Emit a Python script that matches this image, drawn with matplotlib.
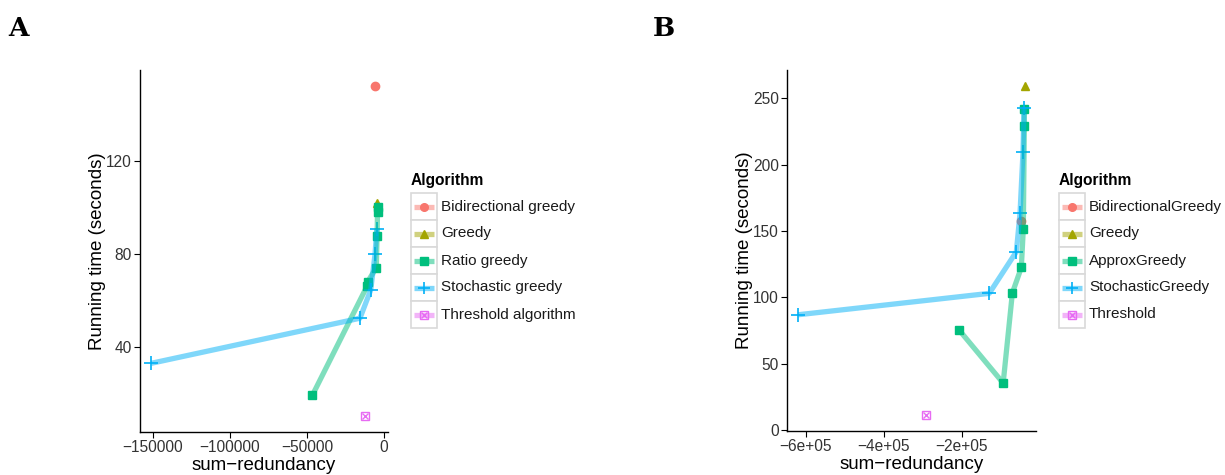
import matplotlib
matplotlib.use("Agg")
import matplotlib.pyplot as plt
from matplotlib.patches import Rectangle

plt.rcParams['font.family'] = ['Liberation Sans', 'DejaVu Sans']
plt.rcParams['axes.unicode_minus'] = True

# ggplot default hue palette for 5 groups
colors = ['#F8766D', '#A3A500', '#00BF7D', '#00B0F6', '#E76BF3']
markers = ['o', '^', 's', '+', 'sx']

# --- panel A data ---
labels_a = ['Bidirectional greedy', 'Greedy', 'Ratio greedy', 'Stochastic greedy', 'Threshold algorithm']
bidir_a_x = [-5800]
bidir_a_y = [152]
greedy_a_x = [-4700]
greedy_a_y = [102]
ratio_a_x = [-46500, -11000, -10500, -5000, -4500, -4200, -4200]
ratio_a_y = [19, 66, 68, 74, 87.5, 98, 100]
stoch_a_x = [-151000, -15600, -8600, -5800, -4700]
stoch_a_y = [32.8, 52.2, 64.4, 79.9, 90.6]
thresh_a_x = [-12300]
thresh_a_y = [10.3]
xticks_a = [-150000, -100000, -50000, 0]
xticklabels_a = ['\u2212150000', '\u2212100000', '\u221250000', '0']
yticks_a = [40, 80, 120]

# --- panel B data ---
labels_b = ['BidirectionalGreedy', 'Greedy', 'ApproxGreedy', 'StochasticGreedy', 'Threshold']
bidir_b_x = [-47600]
bidir_b_y = [157.4]
greedy_b_x = [-39000]
greedy_b_y = [258.9]
approx_b_x = [-207900, -94100, -70500, -47600, -42500, -39900, -39900]
approx_b_y = [75.7, 35.4, 103.4, 122.5, 151.6, 228.8, 242]
stoch_b_x = [-619000, -129800, -60300, -50900, -43300, -40700]
stoch_b_y = [86.9, 103, 134.4, 163.6, 209.6, 242.7]
thresh_b_x = [-290800]
thresh_b_y = [11.7]
xticks_b = [-600000, -400000, -200000]
xticklabels_b = ['\u22126e+05', '\u22124e+05', '\u22122e+05']
yticks_b = [0, 50, 100, 150, 200, 250]

W, H = 1225, 475
fig = plt.figure(figsize=(W / 100, H / 100), dpi=100)


def draw_marker(ax, x, y, m, c, ms=6, zorder=2):
    if m == 'sx':
        ax.plot(x, y, linestyle='none', marker='s', ms=ms, mfc='none', mec=c, mew=1.0, zorder=zorder)
        ax.plot(x, y, linestyle='none', marker='x', ms=ms * 0.7, mec=c, mew=1.0, zorder=zorder)
    elif m == '+':
        ax.plot(x, y, linestyle='none', marker='+', ms=ms * 1.7, mec=c, mew=1.2, zorder=zorder)
    else:
        ax.plot(x, y, linestyle='none', marker=m, ms=ms, mfc=c, mec=c, zorder=zorder)


def panel(rect, series, xlim, ylim, xticks, xticklabels, yticks):
    ax = fig.add_axes(rect)
    for (x, y), c, m in zip(series, colors, markers):
        draw_marker(ax, x, y, m, c)
        if len(x) > 1:
            ax.plot(x, y, color=c, lw=3.8, alpha=0.5, solid_capstyle='butt', zorder=3)
    ax.set_xlim(*xlim)
    ax.set_ylim(*ylim)
    ax.set_xticks(xticks)
    ax.set_xticklabels(xticklabels)
    ax.set_yticks(yticks)
    for s in ['top', 'right']:
        ax.spines[s].set_visible(False)
    for s in ['left', 'bottom']:
        ax.spines[s].set_linewidth(1.0)
        ax.spines[s].set_color('black')
    ax.tick_params(length=4, width=0.8, labelsize=11.2, colors='black', labelcolor='#333333', pad=2)
    ax.set_xlabel('sum\u2212redundancy', fontsize=13.5, labelpad=1)
    ax.set_ylabel('Running time (seconds)', fontsize=13.5, labelpad=0)
    return ax


def legend(x0, labels):
    # x0: left pixel of key boxes
    fig.text(x0 / W, 1 - 181 / H, 'Algorithm', fontsize=11.2, fontweight='bold', va='center', ha='left')
    lax = fig.add_axes([0, 0, 1, 1], facecolor='none')
    lax.set_xlim(0, W)
    lax.set_ylim(H, 0)
    lax.axis('off')
    top = 193
    kh = 27
    kw = 26
    for i, (lab, c, m) in enumerate(zip(labels, colors, markers)):
        y0 = top + i * kh
        lax.add_patch(Rectangle((x0, y0), kw, kh, fc='white', ec='#d9d9d9', lw=1.2))
        yc = y0 + kh / 2
        lax.plot([x0 + 3, x0 + kw - 3], [yc, yc], color=c, lw=3.8, alpha=0.5, solid_capstyle='butt')
        draw_marker(lax, [x0 + kw / 2], [yc], m, c, ms=5.5)
        lax.text(x0 + kw + 4, yc, lab, fontsize=11, va='center', ha='left', color='#1a1a1a')


series_a = [(bidir_a_x, bidir_a_y), (greedy_a_x, greedy_a_y), (ratio_a_x, ratio_a_y),
            (stoch_a_x, stoch_a_y), (thresh_a_x, thresh_a_y)]
series_b = [(bidir_b_x, bidir_b_y), (greedy_b_x, greedy_b_y), (approx_b_x, approx_b_y),
            (stoch_b_x, stoch_b_y), (thresh_b_x, thresh_b_y)]

axA = panel([140 / W, 1 - 432 / H, (388 - 140) / W, (432 - 70) / H], series_a,
            (-158400, 2600), (3.2, 159.1), xticks_a, xticklabels_a, yticks_a)
axB = panel([787 / W, 1 - 431 / H, (1036 - 787) / W, (431 - 70) / H], series_b,
            (-648000, -10000), (-0.7, 271.3), xticks_b, xticklabels_b, yticks_b)

legend(411, labels_a)
legend(1059, labels_b)

fig.text(8 / W, 1 - 28 / H, 'A', fontsize=19, fontweight='bold', family='DejaVu Serif', va='center')
fig.text(653 / W, 1 - 28 / H, 'B', fontsize=19, fontweight='bold', family='DejaVu Serif', va='center')

fig.savefig('out.png', dpi=100)
